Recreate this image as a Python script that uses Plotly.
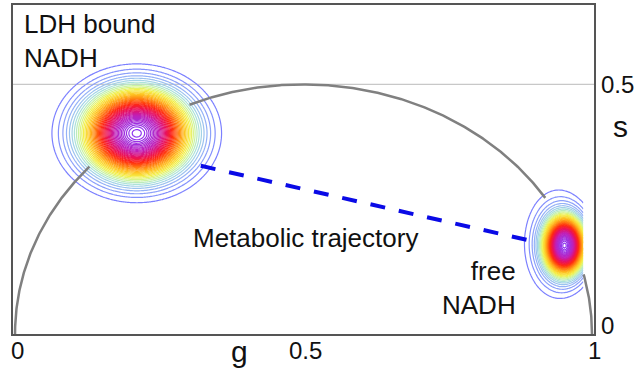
import numpy as np
import plotly.graph_objects as go

# Phasor clouds (g, s): centres, spreads and relative weights
ldh_centers = [[0.211, 0.402]]
ldh_sigmas = [[0.0555, 0.0525]]
ldh_weights = [1.0]

free_centers = [[0.953, 0.177], [0.938, 0.182]]
free_sigmas = [[0.0207, 0.0344], [0.033, 0.063]]
free_weights = [1.0, 0.12]
free_g_limit = 0.985

# Metabolic trajectory segment (g, s)
traj_g = [0.322, 0.893]
traj_s = [0.337, 0.187]

# Tick labels
x_ticks = [0, 0.5, 1]
x_tick_text = ["0", "0.5", "1"]
s_ticks = [0, 0.5]
s_tick_text = ["0", "0.5"]

levels_start, levels_end, levels_step = 0.03, 0.99, 0.02

g_range = [-0.0035, 1.0035]
s_range = [0.0, 0.659]


def cloud(X, Y, centers, sigmas, weights):
    Z = np.zeros_like(np.asarray(X, dtype=float))
    for (cx, cy), (sx, sy), w in zip(centers, sigmas, weights):
        Z = Z + w * np.exp(-0.5 * (((X - cx) / sx) ** 2 + ((Y - cy) / sy) ** 2))
    return Z


def grid(gx, gy, centers, sigmas, weights):
    X, Y = np.meshgrid(gx, gy)
    Z = cloud(X, Y, centers, sigmas, weights)
    peak = Z.max()
    return np.round(Z / peak, 4), peak


ldh_g = np.arange(0.0, 0.46, 0.0025)
ldh_s = np.arange(0.16, 0.65, 0.0025)
ldh_z, ldh_peak = grid(ldh_g, ldh_s, ldh_centers, ldh_sigmas, ldh_weights)

free_g = np.arange(0.80, free_g_limit + 1e-9, 0.0025)
free_s = np.arange(0.0, 0.40, 0.0025)
free_z, free_peak = grid(free_g, free_s, free_centers, free_sigmas, free_weights)

spectral = [
    [0.00, "#7c80ff"],
    [0.06, "#94b0f8"],
    [0.12, "#a8e0e0"],
    [0.17, "#ccf49c"],
    [0.23, "#f4f048"],
    [0.32, "#ffc020"],
    [0.42, "#ff7a10"],
    [0.53, "#ff2a10"],
    [0.66, "#e8105e"],
    [0.80, "#c020b8"],
    [1.00, "#9038f0"],
]

# Universal semicircle, hidden where it runs underneath the dense part of a cloud
theta = np.linspace(0, np.pi, 600)
circ_g = 0.5 + 0.5 * np.cos(theta)
circ_s = 0.5 * np.sin(theta)
under_ldh = cloud(circ_g, circ_s, ldh_centers, ldh_sigmas, ldh_weights) / ldh_peak > 0.15
under_free = (cloud(circ_g, circ_s, free_centers, free_sigmas, free_weights) / free_peak > 0.04) \
    & (circ_g <= free_g_limit)
circ_s_vis = np.where(under_ldh | under_free, np.nan, circ_s)

fig = go.Figure()

fig.add_trace(go.Scatter(
    x=circ_g, y=circ_s_vis, mode="lines", connectgaps=False,
    line=dict(color="#808080", width=2.5), hoverinfo="skip", showlegend=False,
))

fig.add_trace(go.Scatter(
    x=traj_g, y=traj_s, mode="lines",
    line=dict(color="#0a0ae6", width=4, dash="15px,14px"),
    hoverinfo="skip", showlegend=False,
))

for gx, gy, z in [(ldh_g, ldh_s, ldh_z), (free_g, free_s, free_z)]:
    fig.add_trace(go.Contour(
        x=gx, y=gy, z=z,
        contours=dict(coloring="lines", start=levels_start, end=levels_end, size=levels_step),
        colorscale=spectral, zmin=levels_start, zmax=1.0, zauto=False,
        line=dict(width=1.2), showscale=False, hoverinfo="skip",
    ))

font = dict(family="Arial, Liberation Sans, sans-serif", color="#111111")


def label(text, x, y, size, ref="data", xanchor="center", yanchor="middle", align="center"):
    xr, yr = ("x", "y") if ref == "data" else ("paper", "paper")
    fig.add_annotation(
        text=text, x=x, y=y, xref=xr, yref=yr, showarrow=False,
        xanchor=xanchor, yanchor=yanchor, align=align,
        font=dict(size=size, **font),
    )


def g_to_paper(v):
    return (v - g_range[0]) / (g_range[1] - g_range[0])


def s_to_paper(v):
    return (v - s_range[0]) / (s_range[1] - s_range[0])


label("LDH bound<br>NADH", 0.012, 0.586, 26, xanchor="left", align="left")
label("Metabolic trajectory", 0.503, 0.193, 26)
label("free<br>NADH", 0.872, 0.092, 26, xanchor="right", align="right")

# axis titles
label("g", 0.389, -0.052, 30, ref="paper")
label("s", 1.045, 0.631, 30, ref="paper")

# tick labels: g along the bottom, s on the right
for v, t in zip(x_ticks, x_tick_text):
    label(t, g_to_paper(v) + 0.004, -0.050, 24, ref="paper")
for v, t in zip(s_ticks, s_tick_text):
    yp = s_to_paper(v) + (0.027 if v == 0 else 0.0)
    label(t, 1.008, yp, 24, ref="paper", xanchor="left")

fig.add_shape(type="line", xref="paper", yref="y", x0=0, x1=1, y0=0.5, y1=0.5,
              line=dict(color="#c8c8c8", width=1.2), layer="below")

axis_common = dict(showgrid=False, zeroline=False, showticklabels=False, ticks="",
                   showline=True, mirror=True, linecolor="#555555", linewidth=2)

fig.update_layout(
    width=639, height=371,
    margin=dict(l=13, r=45, t=3, b=37),
    paper_bgcolor="white", plot_bgcolor="white",
    xaxis=dict(range=g_range, **axis_common),
    yaxis=dict(range=s_range, **axis_common),
    showlegend=False,
)

fig.write_html("out.html")
